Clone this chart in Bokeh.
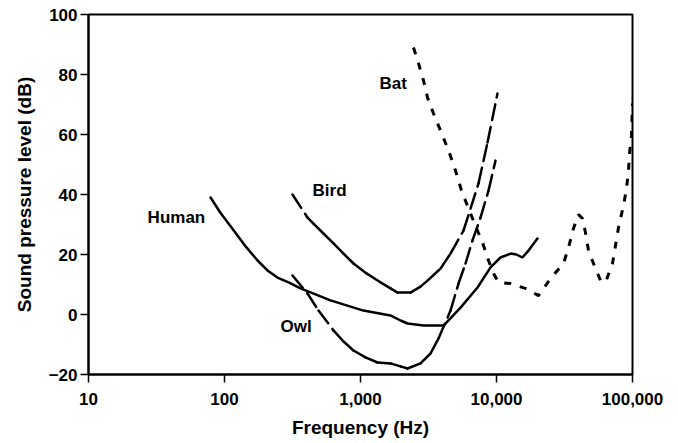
from bokeh.plotting import figure
from bokeh.models import Range1d, FixedTicker, ColumnDataSource
from bokeh.embed import file_html
from bokeh.resources import INLINE
from bokeh.core.properties import value

# ---- data -----------------------------------------------------------
x_ticks = [10, 100, 1000, 10000, 100000]
x_tick_labels = ["10", "100", "1,000", "10,000", "100,000"]
y_ticks = [-20, 0, 20, 40, 60, 80, 100]

human_f = [79, 93, 117, 143, 175, 207, 245, 296, 362, 602, 1050, 1660, 1970,
           2220, 2910, 4080, 5440, 7250, 9040, 10700, 12700, 14000, 15500,
           17200, 20000]
human_db = [39, 34, 28, 22.7, 18, 14.7, 12.3, 10.7, 8.7, 4.7, 1.3, -0.3, -2,
            -3, -3.7, -3.7, 2.3, 9, 15.7, 19, 20.3, 20, 19, 21.3, 25.3]

bird_f = [316, 408, 451, 534, 633, 750, 888, 1107, 1403, 1662, 1872, 2331,
          2762, 3110, 3875, 4590, 5720, 6440, 7374, 8587, 10170]
bird_db = [40, 32.3, 30.3, 27, 23.7, 20.3, 17, 13.7, 10.7, 8.7, 7.3, 7.3,
           9.3, 11.3, 15.3, 20.3, 28, 35.3, 43.7, 57.3, 73.7]

owl_f = [316, 408, 491, 633, 750, 888, 1088, 1334, 1662, 1969, 2216, 2762,
         3271, 3746, 4590, 5255, 5918, 6661, 7628, 8735, 9831]
owl_db = [13, 7, 1.3, -5.3, -9, -12, -14.3, -16, -16.3, -17.3, -18, -16.3,
          -13, -8, 1.3, 10.3, 17, 24.7, 32.3, 41.3, 51.3]

bat_f = [2453, 2670, 2906, 3110, 3442, 3875, 4437, 4994, 5529, 6440, 7128,
         7891, 8735, 9504, 10345, 12675, 16340, 20360, 24950, 31090, 33840,
         36830, 40090, 42900, 45110, 47480, 51670, 58190, 63310, 71280,
         74990, 78910, 85870, 90360, 93460, 95040, 98310, 100000]
bat_db = [89, 83.7, 78, 72.3, 67, 61.3, 54.7, 48, 41.3, 33.7, 28.7, 24, 18,
          13.7, 10.7, 10.3, 8.7, 6.3, 12, 17, 22.3, 28.7, 33.3, 32, 27.3,
          21.3, 17, 11.3, 10.7, 17, 23, 29, 36.3, 42, 48, 53.7, 59.7, 70.3]

label_names = ["Human", "Bird", "Owl", "Bat"]
label_f = [27.2, 444, 258, 1380]
label_db = [32.3, 41.3, -4.0, 77.0]

FONT = "Liberation Sans"

# ---- figure ---------------------------------------------------------
p = figure(width=678, height=443, x_axis_type="log",
           x_range=Range1d(10, 100000), y_range=Range1d(-20, 100),
           output_backend="svg", toolbar_location=None,
           min_border_left=88, min_border_right=46,
           min_border_top=14, min_border_bottom=69)

p.xgrid.visible = False
p.ygrid.visible = False
p.outline_line_color = "black"
p.outline_line_width = 2
p.background_fill_color = "white"
p.border_fill_color = "white"

p.xaxis.ticker = FixedTicker(ticks=x_ticks, minor_ticks=[])
p.xaxis.major_label_overrides = {t: l for t, l in zip(x_ticks, x_tick_labels)}
p.yaxis.ticker = FixedTicker(ticks=y_ticks, minor_ticks=[])

p.xaxis.axis_label = "Frequency (Hz)"
p.yaxis.axis_label = "Sound pressure level (dB)"

for ax in (p.xaxis[0], p.yaxis[0]):
    ax.axis_line_width = 2
    ax.axis_line_color = "black"
    ax.major_tick_line_color = "black"
    ax.major_tick_line_width = 1.5
    ax.major_tick_out = 8
    ax.major_tick_in = 0
    ax.minor_tick_out = 0
    ax.minor_tick_in = 0
    ax.major_label_text_font = FONT
    ax.major_label_text_font_style = "bold"
    ax.major_label_text_font_size = "17px"
    ax.major_label_text_color = "black"
    ax.axis_label_text_font = FONT
    ax.axis_label_text_font_style = "bold"
    ax.axis_label_text_font_size = "19px"
    ax.axis_label_text_color = "black"

p.xaxis.major_label_standoff = 10
p.xaxis.axis_label_standoff = 9
p.yaxis.major_label_standoff = 3
p.yaxis.axis_label_standoff = 11


def segments(f, db):
    xs = [[f[i], f[i + 1]] for i in range(len(f) - 1)]
    ys = [[db[i], db[i + 1]] for i in range(len(db) - 1)]
    return xs, ys


# Human: solid
p.line(human_f, human_db, line_color="black", line_width=2.5,
       line_join="round", line_cap="round")

# Bird and Owl: long dash restarting on every segment
for f, db in ((bird_f, bird_db), (owl_f, owl_db)):
    xs, ys = segments(f, db)
    p.multi_line(xs, ys, line_color="black", line_width=2.5,
                 line_dash="16 7", line_cap="round", line_join="round")

# Bat: short dashes
p.line(bat_f, bat_db, line_color="black", line_width=3,
       line_dash="7 9", line_cap="butt")

src = ColumnDataSource(dict(x=label_f, y=label_db, t=label_names))
p.text(x="x", y="y", text="t", source=src, text_font=value(FONT),
       text_font_style="bold", text_font_size="17px", text_color="black",
       text_align="left", text_baseline="alphabetic")

open("out.html", "w").write(file_html(p, INLINE))
